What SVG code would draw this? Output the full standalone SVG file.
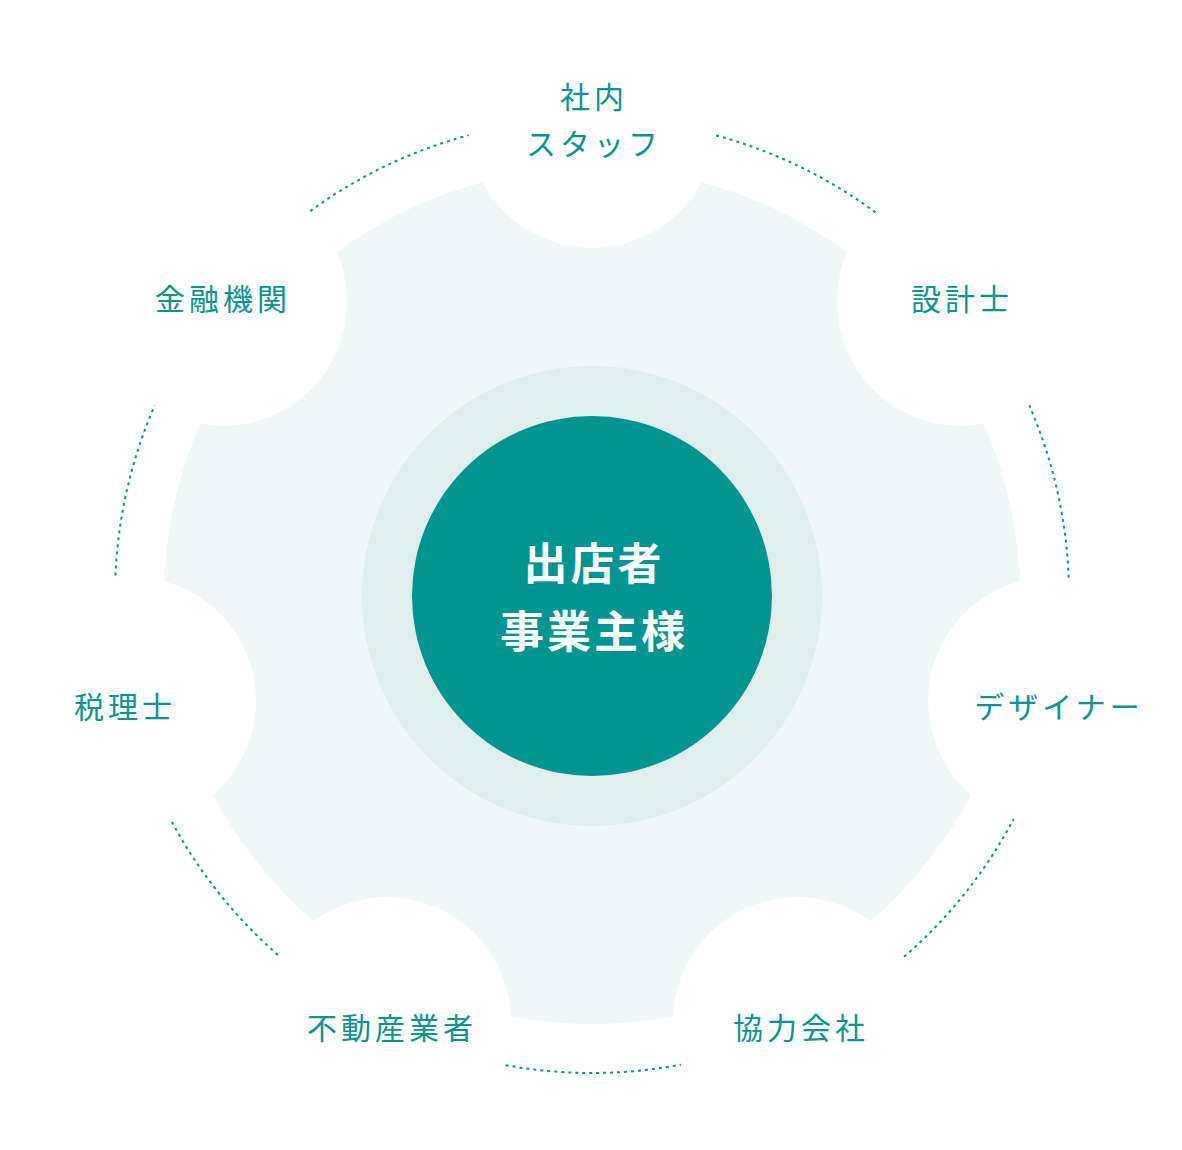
<svg xmlns="http://www.w3.org/2000/svg" width="1182" height="1150" viewBox="0 0 1182 1150">
<style>
.lbl{font-family:"Noto Sans CJK JP",sans-serif;font-size:30px;fill:#0a9490;text-anchor:middle;letter-spacing:4px}
.c{font-family:"Noto Sans CJK JP",sans-serif;font-size:44px;font-weight:bold;fill:#fff;text-anchor:middle;letter-spacing:3px}
.cut{fill:#fff}
</style>
<rect width="1182" height="1150" fill="#fff"/>
<circle cx="592" cy="596" r="428" fill="#eff8f7"/>
<g id="connectors"><circle cx="592" cy="596" r="477" fill="none" stroke="#0a9490" stroke-width="2" stroke-dasharray="3,4"/></g>
<g class="cut">
<circle cx="592" cy="124" r="124"/><circle cx="961" cy="302" r="124"/><circle cx="1052" cy="701" r="124"/><circle cx="797" cy="1021" r="124"/><circle cx="387" cy="1021" r="124"/><circle cx="132" cy="701" r="124"/><circle cx="223" cy="302" r="124"/>
</g>
<circle cx="592" cy="596" r="230" fill="#e0eeed"/>
<g id="center"><circle cx="592" cy="596" r="180" fill="#009591"/>
<text class="c" x="594" y="580">出店者</text><text class="c" x="594" y="648">事業主様</text></g>
<g id="n1"><text class="lbl" x="594" y="108">社内</text><text class="lbl" x="594" y="155">スタッフ</text></g>
<g id="n2"><text class="lbl" x="962" y="310">設計士</text></g>
<g id="n3"><text class="lbl" x="1059" y="718">デザイナー</text></g>
<g id="n4"><text class="lbl" x="801" y="1039">協力会社</text></g>
<g id="n5"><text class="lbl" x="392" y="1039">不動産業者</text></g>
<g id="n6"><text class="lbl" x="125" y="718">税理士</text></g>
<g id="n7"><text class="lbl" x="223" y="310">金融機関</text></g>
</svg>
